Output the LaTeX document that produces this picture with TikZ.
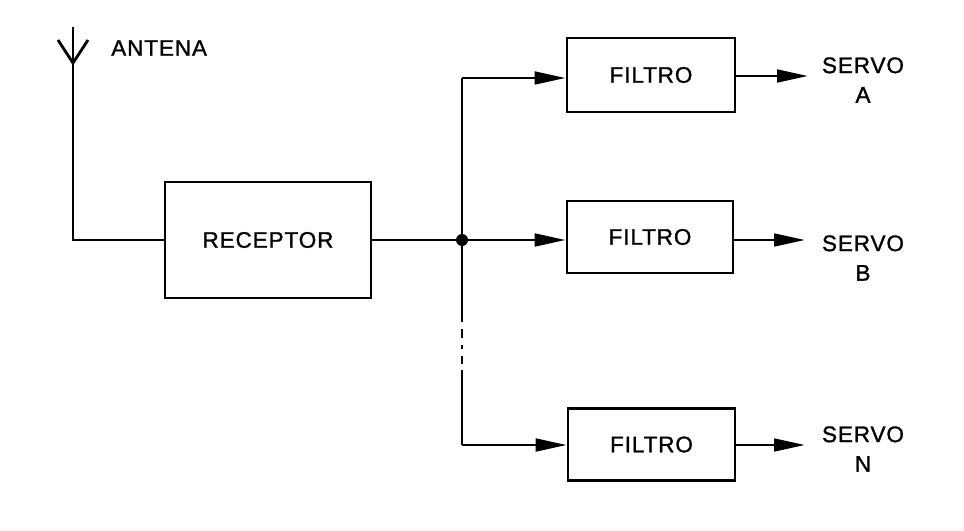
\documentclass[tikz,border=0pt]{standalone}
\usepackage{fontspec}
\setmainfont{Liberation Sans}[LetterSpace=4, FakeBold=1.2]
\usetikzlibrary{arrows.meta}
\usetikzlibrary{shapes}

\begin{document}
\begin{tikzpicture}[x = 0.025cm, y = -0.025cm]
\tikzstyle{BlockStyle}=[shape = rectangle,
                        draw,
                        line width = 2pt,
                        inner sep = 0pt,
                        font = \fontsize{16}{18}\selectfont]
\tikzstyle{LabelStyle}=[align = center,
                        inner sep = 0pt,
                        font = \fontsize{16}{21}\selectfont]
\tikzstyle{WireStyle}=[line width = 2pt]
\tikzstyle{ArrowStyle}=[line width = 2pt,
                        -{Triangle[length = 22pt, width = 9pt]}]
\useasboundingbox (0,0) rectangle (964,531);
\coordinate (top) at (73,27);
\coordinate (armL) at (58,40);
\coordinate (armR) at (88,40);
\coordinate (armM) at (73,63);
\coordinate (bend) at (73,240);
\node[LabelStyle, anchor = west] (ant) at (111,48) {ANTENA};
\node[BlockStyle, minimum width = 5.15cm, minimum height = 2.9cm] (rec) at (268,240) {RECEPTOR};
\node[BlockStyle, minimum width = 4.2cm, minimum height = 1.85cm] (fa) at (651,75) {FILTRO};
\node[BlockStyle, minimum width = 4.15cm, minimum height = 1.8cm] (fb) at (650,237) {FILTRO};
\node[BlockStyle, minimum width = 4.17cm, minimum height = 1.78cm] (fn) at (651.5,444.5) {FILTRO};
\node[shape = circle, fill, inner sep = 0pt, minimum size = 0.3cm] (j) at (462,240) {};
\coordinate (ta) at (462,78);
\coordinate (tb) at (462,445);
\coordinate (d1) at (462,318);
\coordinate (d2) at (462,370);
\coordinate (oa) at (808,76);
\coordinate (ob) at (805,240);
\coordinate (on) at (805,445);
\node[LabelStyle] (sa) at (863,80) {SERVO\\A};
\node[LabelStyle] (sb) at (863,258) {SERVO\\B};
\node[LabelStyle] (sn) at (863,449) {SERVO\\N};
\draw[WireStyle] (top) -- (bend) -- (rec.west);
\draw[WireStyle] (armL) -- (armM) -- (armR);
\draw[WireStyle] (rec.east) -- (j);
\draw[WireStyle] (ta) -- (j) -- (d1);
\draw[WireStyle, dash pattern = on 3pt off 5pt on 6pt off 5pt on 3pt off 5pt on 6pt off 5pt] (d1) -- (d2);
\draw[WireStyle] (d2) -- (tb);
\draw[ArrowStyle] (ta) -- (ta -| fa.west);
\draw[ArrowStyle] (j) -- (j -| fb.west);
\draw[ArrowStyle] (tb) -- (tb -| fn.west);
\draw[ArrowStyle] (oa -| fa.east) -- (oa);
\draw[ArrowStyle] (ob -| fb.east) -- (ob);
\draw[ArrowStyle] (on -| fn.east) -- (on);
\end{tikzpicture}
\end{document}
